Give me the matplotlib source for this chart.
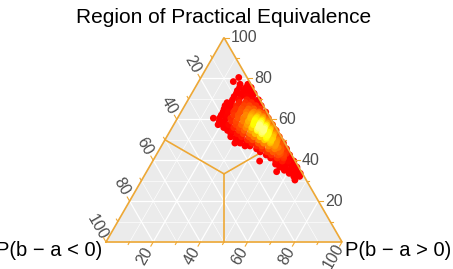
import matplotlib.pyplot as plt
import numpy as np
from matplotlib.colors import LinearSegmentedColormap

plt.rcParams['font.family'] = ['Liberation Sans', 'DejaVu Sans']

# Posterior draws (percent), one row per ROPE level:
# rope_rows = ROPE share (top vertex), p_neg_rows = P(b - a < 0) share (left vertex)
rope_rows = [80.5, 78.5, 77.2, 75.6, 74.1, 72.7, 71.2, 69.6, 68.2, 66.7, 65.1,
             63.6, 62.8, 62.1, 61.3, 60.6, 59.8, 59.1, 58.3, 57.4, 56.8, 56.0,
             55.3, 54.6, 53.8, 53.0, 52.3, 51.5, 50.8, 50.0, 49.2, 48.4, 47.7,
             47.0, 46.3, 45.6, 44.8, 44.1, 43.3, 42.6, 41.8, 41.1, 39.6, 38.1,
             36.6, 35.1, 34.4, 33.6, 32.1, 30.3]
p_neg_rows = [
    [3.5],
    [6.8],
    [1.3, 4.6],
    [0.7, 2.9, 5.6],
    [1.8, 4.2, 7.3],
    [0.9, 3.5, 6.1, 8.4],
    [2.3, 4.7, 7.2, 10.1],
    [0.6, 3.0, 5.5, 8.9, 11.6],
    [1.7, 4.3, 6.8, 9.4, 12.8, 14.6],
    [0.9, 3.1, 5.9, 8.2, 11.3, 13.6, 16.2],
    [2.2, 4.8, 7.1, 10.0, 12.4, 15.3, 17.4],
    [0.5, 3.4, 5.6, 8.7, 11.2, 14.1, 16.4, 18.6],
    [2.2, 4.1, 6.7],
    [1.6, 4.4, 7.3, 9.6, 12.9, 14.8, 17.7, 20.1],
    [1.2, 2.8, 5.3, 8.0],
    [0.9, 3.3, 6.0, 8.4, 11.4, 13.6, 16.8, 18.8, 21.6, 24.2],
    [1.5, 4.0, 6.9],
    [1.9, 4.7, 7.4, 10.1, 12.2, 15.3, 17.2, 20.3, 22.4],
    [1.2, 2.6, 5.4, 8.1],
    [0.7, 3.3, 6.2, 8.8, 11.4, 13.9, 16.2, 19.3, 21.7, 23.8],
    [1.3, 4.1, 6.6],
    [2.2, 4.8, 7.3, 10.2, 12.7, 15.4, 17.8, 20.5, 22.1],
    [1.0, 2.9, 5.5, 8.1],
    [0.6, 3.4, 5.9, 8.6, 11.2, 14.1, 16.3, 19.2, 21.2],
    [1.5, 4.3, 6.9],
    [2.3, 4.7, 7.5, 10.3, 12.4, 15.3, 17.9, 20.6],
    [1.2, 3.0, 5.4],
    [0.8, 3.6, 6.3, 8.9, 11.6, 13.7, 16.8, 18.7, 21.4],
    [1.6, 4.0, 6.7],
    [2.4, 5.0, 7.8, 10.2, 12.9, 15.0, 17.6, 19.9],
    [1.0, 3.1, 5.6],
    [0.6, 3.7, 6.2, 9.0, 11.3, 14.0, 16.2, 19.0, 21.2],
    [2.0, 4.4],
    [1.4, 4.9, 7.6, 10.4, 12.6, 15.5, 17.6],
    [1.6, 3.9],
    [0.7, 3.0, 5.7, 8.3, 11.1, 13.4],
    [1.2, 3.6],
    [2.1, 4.6, 7.2, 9.7, 12.6],
    [2.0, 4.5],
    [0.9, 3.5, 5.8, 8.6, 10.8],
    [1.4, 3.8],
    [1.8, 4.2, 6.9, 9.7],
    [0.6, 3.1, 5.5, 8.3, 15.1],
    [1.6, 4.4, 7.0, 9.1],
    [0.8, 3.0, 5.9, 8.1],
    [2.1, 4.7, 6.9],
    [10.5],
    [0.9, 3.3, 5.6],
    [1.9, 4.4],
    [4.8],
]

major = [20, 40, 60, 80, 100]
minor = [10, 30, 50, 70, 90]

edge_col = '#EEA835'
s3 = np.sqrt(3) / 2


def to_xy(t, l):
    t = np.asarray(t, float)
    l = np.asarray(l, float)
    r = 100 - t - l
    return r + t / 2, t * s3


rope = np.concatenate([[t] * len(ls) for t, ls in zip(rope_rows, p_neg_rows)])
p_neg = np.concatenate(p_neg_rows)

fig = plt.figure(figsize=(4.53, 2.69), dpi=100)
ax = fig.add_axes([0, 0, 1, 1])
ax.set_xlim(-106 / 2.36, 347 / 2.36)
ax.set_ylim(-27 / 2.36, 242 / 2.36)
ax.axis('off')

# grey panel
ax.fill([0, 100, 50], [0, 0, 100 * s3], color='#EBEBEB', zorder=0)

# grid
for v in sorted(minor[:-1] + major[:-1]):
    lw = 0.9 if v in major else 0.45
    ax.plot([v / 2, 100 - v / 2], [v * s3, v * s3], color='white', lw=lw, zorder=1)
    ax.plot([100 - v, (100 - v) / 2], [0, (100 - v) * s3], color='white', lw=lw, zorder=1)
    ax.plot([v, v + (100 - v) / 2], [0, (100 - v) * s3], color='white', lw=lw, zorder=1)

# ROPE boundaries
cx, cy = to_xy(100 / 3, 100 / 3)
for t, l in [(50, 50), (50, 0), (0, 50)]:
    mx, my = to_xy(t, l)
    ax.plot([cx, mx], [cy, my], color=edge_col, lw=1.2, zorder=2)

# points coloured by density
x, y = to_xy(rope, p_neg)
d2 = (x[:, None] - x[None, :]) ** 2 + (y[:, None] - y[None, :]) ** 2
dens = np.exp(-d2 / (2 * 4.5 ** 2)).sum(axis=1)
dens = (dens - dens.min()) / (dens.max() - dens.min())
order = np.argsort(dens)
heat = LinearSegmentedColormap.from_list(
    'heat', [(0, '#FF0000'), (0.45, '#FF0000'), (0.68, '#FF5000'),
             (0.84, '#FFA000'), (0.95, '#FFFF00'), (1, '#FFFF80')])
ax.scatter(x[order], y[order], c=dens[order], cmap=heat, s=24, lw=0, zorder=3)

# triangle border
ax.plot([0, 100, 50, 0], [0, 0, 100 * s3, 0], color=edge_col, lw=1.2, zorder=4,
        solid_joinstyle='miter')

# ticks and labels
lab = dict(color='#4D4D4D', fontsize=11.5)
for v in major + minor:
    ln = 2.0 if v in major else 1.2
    px, py = 100 - v / 2, v * s3
    ax.plot([px, px + ln], [py, py], color=edge_col, lw=0.8, zorder=4)
    px, py = (100 - v) / 2, (100 - v) * s3
    ax.plot([px, px - 0.5 * ln], [py, py + s3 * ln], color=edge_col, lw=0.8, zorder=4)
    ax.plot([v, v - 0.5 * ln], [0, -s3 * ln], color=edge_col, lw=0.8, zorder=4)
for v in major:
    ax.text(100 - v / 2 + 2.8, v * s3, str(v), ha='left', va='center', **lab)
    ax.text((100 - v) / 2 - 0.5 * 7, (100 - v) * s3 + s3 * 7, str(v),
            ha='center', va='center', rotation=-60, **lab)
    ax.text(v - 0.5 * 7, -s3 * 7, str(v), ha='center', va='center', rotation=60, **lab)

ax.text(-1.7, -3.4, 'P(b − a < 0)', ha='right', va='center', fontsize=14.5)
ax.text(101.3, -3.4, 'P(b − a > 0)', ha='left', va='center', fontsize=14.5)
ax.text(50, 95.3, 'Region of Practical Equivalence', ha='center', va='center', fontsize=15)

fig.savefig('out.png', dpi=100)
